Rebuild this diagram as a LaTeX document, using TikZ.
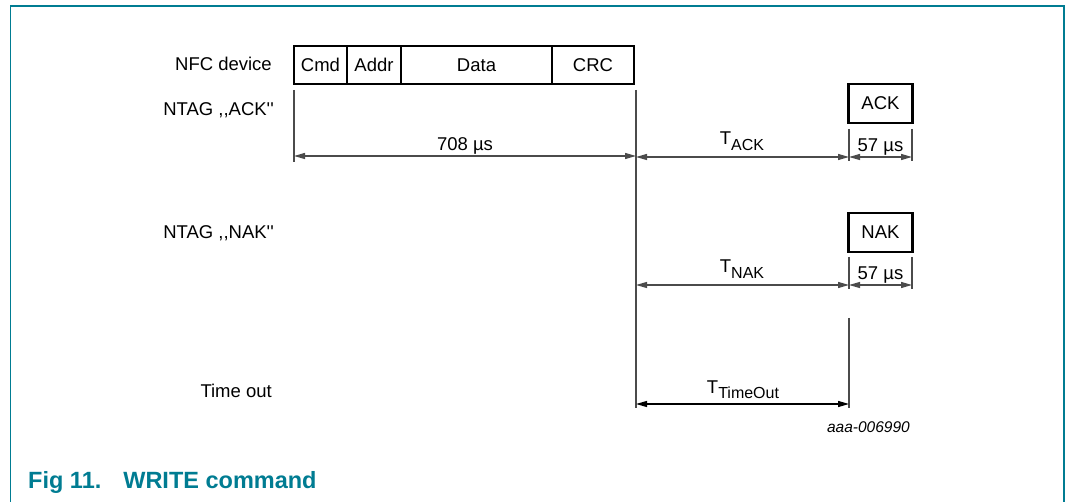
\documentclass[tikz,border=0pt]{standalone}
\usepackage{fontspec}
\newfontfamily\arial{Liberation Sans}
\usetikzlibrary{arrows.meta}
\definecolor{nxpteal}{RGB}{0,124,146}
\definecolor{dimgray}{RGB}{75,75,75}
\begin{document}
\begin{tikzpicture}[x=1pt,y=-1pt,
  every node/.style={font=\arial\fontsize{18.5}{20}\selectfont, inner sep=0pt},
  framebox/.style={draw=black, line width=2.2pt, minimum height=38pt},
  tip/.tip={Triangle[length=11pt,width=6pt]},
  dimline/.style={draw=dimgray, line width=1.3pt, tip-tip},
  vline/.style={draw=dimgray, line width=1.2pt},
  lab/.style={anchor=base east},
  sub/.style={anchor=base}
]
\useasboundingbox (0,0) rectangle (1068,502);
% frame
\draw[nxpteal, line width=1.6pt] (10.5,502) -- (10.5,6) -- (1064,6) -- (1064,502);

% left labels
\node[lab] (lnfc) at (272,71) {NFC device};
\node[lab] (lack) at (274,116) {NTAG ,,ACK''};
\node[lab] (lnak) at (274,239) {NTAG ,,NAK''};
\node[lab] (lto) at (272,397) {Time out};

% frame boxes
\node[framebox, minimum width=53pt] (cmd) at (320.5,65) {Cmd};
\node[framebox, minimum width=54pt] (addr) at (374,65) {Addr};
\node[framebox, minimum width=151pt] (data) at (476.5,65) {Data};
\node[framebox, minimum width=82pt] (crc) at (593,65) {CRC};
\node[framebox, minimum width=64pt, minimum height=39pt] (ack) at (880.5,103.5) {ACK};
\node[framebox, minimum width=64pt, minimum height=39pt] (nak) at (880.5,232.5) {NAK};

% vertical lines
\coordinate (l1) at (294,90); \coordinate (l1b) at (294,162);
\coordinate (m1) at (636,90); \coordinate (m1b) at (636,408);
\coordinate (a1) at (849,129); \coordinate (a1b) at (849,161);
\coordinate (a2) at (912,129); \coordinate (a2b) at (912,161);
\coordinate (n1) at (849,257); \coordinate (n1b) at (849,289);
\coordinate (n2) at (912,257); \coordinate (n2b) at (912,289);
\coordinate (t1) at (849,318); \coordinate (t1b) at (849,408);
\draw[vline] (l1) -- (l1b);
\draw[vline] (m1) -- (m1b);
\draw[vline] (a1) -- (a1b);
\draw[vline] (a2) -- (a2b);
\draw[vline] (n1) -- (n1b);
\draw[vline] (n2) -- (n2b);
\draw[vline] (t1) -- (t1b);

% dimension arrows
\coordinate (d1a) at (294,156); \coordinate (d1b) at (636,156);
\coordinate (d2a) at (636,157); \coordinate (d2b) at (849,157);
\coordinate (d3a) at (849,157); \coordinate (d3b) at (912,157);
\coordinate (d4a) at (636,285); \coordinate (d4b) at (849,285);
\coordinate (d5a) at (849,285); \coordinate (d5b) at (912,285);
\coordinate (d6a) at (636,404); \coordinate (d6b) at (849,404);
\draw[dimline] (d1a) -- (d1b);
\draw[dimline] (d2a) -- (d2b);
\draw[dimline] (d3a) -- (d3b);
\draw[dimline] (d4a) -- (d4b);
\draw[dimline] (d5a) -- (d5b);
\draw[dimline, draw=black] (d6a) -- (d6b);

% dimension labels
\node[sub] (t708) at (465,151) {708 µs};
\node[sub] (tack) at (742,145) {T\raisebox{-5.5pt}{\fontsize{16}{18}\selectfont ACK}};
\node[sub] (t57a) at (880.5,152) {57 µs};
\node[sub] (tnak) at (742,273) {T\raisebox{-5.5pt}{\fontsize{16}{18}\selectfont NAK}};
\node[sub] (t57b) at (880.5,280) {57 µs};
\node[sub] (tto) at (743,393) {T\raisebox{-5.5pt}{\fontsize{16}{18}\selectfont TimeOut}};

% figure id
\node[anchor=base east, font=\arial\itshape\fontsize{15.5}{17}\selectfont] (fid) at (910,432) {aaa-006990};

% caption
\node[anchor=base west, text=nxpteal, font=\arial\bfseries\fontsize{23.5}{26}\selectfont] (cap) at (28,488) {Fig 11.\hspace{22pt}WRITE command};
\end{tikzpicture}
\end{document}
